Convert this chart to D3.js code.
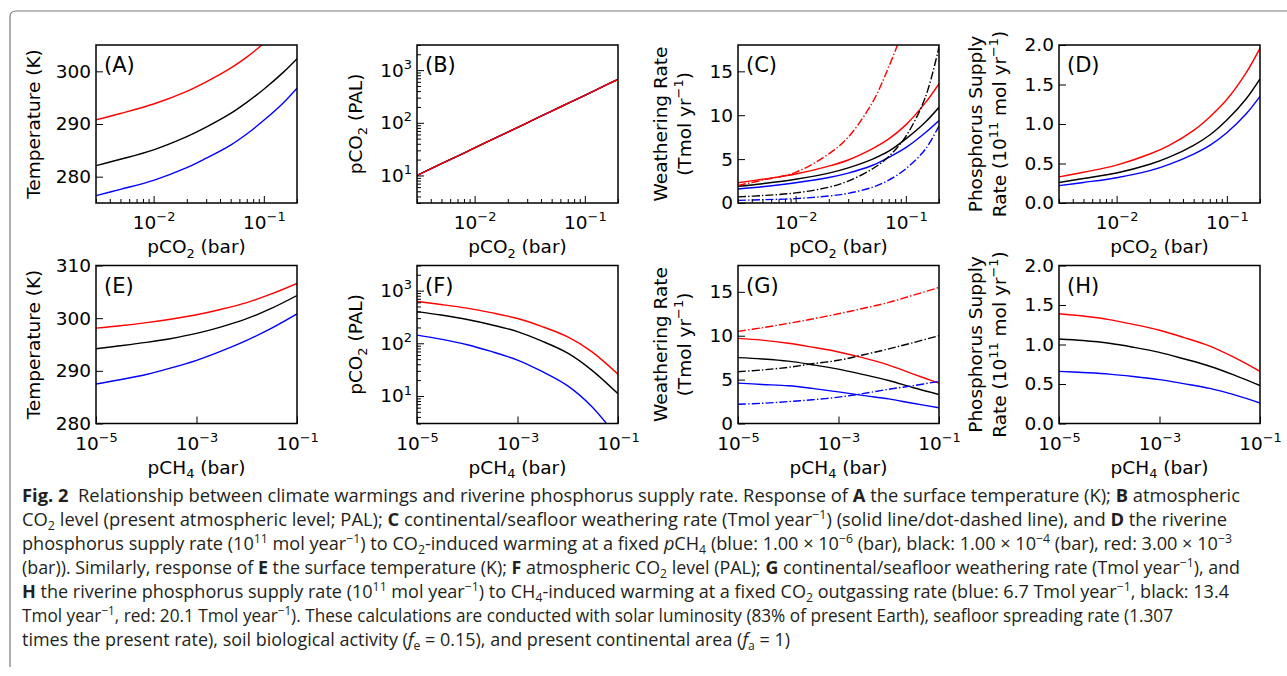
<!DOCTYPE html>
<html>
<head>
<meta charset="utf-8">
<script src="https://cdn.jsdelivr.net/npm/d3@7"></script>
<style>
body { margin: 0; background: #fff; }
svg text { font-family: "DejaVu Sans", sans-serif; fill: #000; }
.cap text { font-family: "Liberation Sans Narrow", "Open Sans", sans-serif; fill: #231f20; white-space: pre; }
</style>
</head>
<body>
<svg id="fig" width="1287" height="676"></svg>
<script>
// x grids (bar)
var pco2 = [0.003, 0.005, 0.01, 0.02, 0.03, 0.05, 0.07, 0.1, 0.15, 0.2];
var pch4 = [1e-5, 3e-5, 1e-4, 3e-4, 1e-3, 3e-3, 1e-2, 3e-2, 1e-1];

// (A) temperature vs pCO2
var tA_blue  = [276.4, 277.6, 279.3, 281.7, 283.5, 286.0, 288.1, 290.7, 294.0, 296.8];
var tA_black = [282.1, 283.3, 285.1, 287.6, 289.4, 292.0, 294.1, 296.6, 299.8, 302.4];
var tA_red   = [290.8, 292.0, 293.8, 296.2, 298.0, 300.6, 302.7, 305.3];
// (B) pCO2 in PAL (same for all three)
var palB = [10, 16.7, 33.3, 66.7, 100, 167, 233, 333, 500, 667];
// (C) continental (solid) / seafloor (dash-dot) weathering
var wC_blue  = [1.6, 1.85, 2.3, 2.9, 3.4, 4.3, 5.2, 6.3, 8.0, 9.4];
var wC_black = [1.9, 2.2, 2.7, 3.4, 4.0, 5.0, 5.9, 7.3, 9.2, 10.9];
var wC_red   = [2.3, 2.7, 3.3, 4.2, 4.9, 6.2, 7.3, 8.9, 11.4, 13.6];
var sC_blue  = [0.3, 0.38, 0.5, 0.8, 1.1, 1.8, 2.6, 3.9, 6.1, 8.8];
var sC_black = [0.7, 0.85, 1.15, 1.8, 2.5, 3.9, 5.3, 7.6, 12.0, 17.8];
var sC_red   = [2.0, 2.6, 3.5, 5.6, 7.5, 11.5, 15.5, 20.5];
// (D) phosphorus supply vs pCO2
var pD_blue  = [0.22, 0.26, 0.32, 0.41, 0.49, 0.62, 0.73, 0.89, 1.13, 1.35];
var pD_black = [0.26, 0.31, 0.38, 0.49, 0.58, 0.73, 0.86, 1.05, 1.32, 1.57];
var pD_red   = [0.33, 0.39, 0.48, 0.62, 0.73, 0.92, 1.09, 1.31, 1.65, 1.96];
// (E) temperature vs pCH4
var tE_blue  = [287.5, 288.3, 289.3, 290.5, 292.0, 293.7, 295.8, 298.0, 300.8];
var tE_black = [294.2, 294.75, 295.4, 296.1, 297.1, 298.3, 299.9, 301.8, 304.3];
var tE_red   = [298.1, 298.55, 299.15, 299.8, 300.65, 301.65, 302.95, 304.55, 306.6];
// (F) pCO2 (PAL) vs pCH4
var palF_blue  = [143, 120, 94, 70, 48, 29.5, 15.5, 6.3, 1.6];
var palF_black = [400, 344, 283, 225, 167, 111, 65, 31, 11];
var palF_red   = [620, 546, 465, 382, 296, 210, 132, 69.5, 25.8];
// (G) weathering vs pCH4
var wG_blue  = [4.6, 4.45, 4.3, 4.0, 3.6, 3.2, 2.8, 2.3, 1.8];
var wG_black = [7.5, 7.35, 7.1, 6.7, 6.2, 5.6, 4.9, 4.1, 3.3];
var wG_red   = [9.7, 9.5, 9.15, 8.7, 8.15, 7.5, 6.65, 5.65, 4.6];
var sG_blue  = [2.2, 2.3, 2.5, 2.7, 3.0, 3.4, 3.9, 4.3, 4.8];
var sG_black = [5.9, 6.1, 6.4, 6.8, 7.2, 7.8, 8.5, 9.2, 10.0];
var sG_red   = [10.5, 10.9, 11.4, 11.9, 12.5, 13.1, 13.8, 14.6, 15.5];
// (H) phosphorus supply vs pCH4
var pH_blue  = [0.66, 0.645, 0.625, 0.595, 0.555, 0.505, 0.445, 0.365, 0.26];
var pH_black = [1.07, 1.05, 1.015, 0.965, 0.90, 0.82, 0.725, 0.615, 0.48];
var pH_red   = [1.39, 1.36, 1.315, 1.255, 1.18, 1.09, 0.98, 0.84, 0.66];

// ticks
var co2Major = [0.01, 0.1];
var co2Minor = [0.003, 0.004, 0.005, 0.006, 0.007, 0.008, 0.009,
                0.02, 0.03, 0.04, 0.05, 0.06, 0.07, 0.08, 0.09, 0.2];
var ch4Major = [1e-5, 1e-3, 1e-1];
var palMajor = [10, 100, 1000];
var palMinor = [3, 4, 5, 6, 7, 8, 9, 20, 30, 40, 50, 60, 70, 80, 90,
                200, 300, 400, 500, 600, 700, 800, 900, 2000, 3000];
var tempTicksA = [280, 290, 300];
var tempTicksE = [280, 290, 300, 310];
var wTicks = [0, 5, 10, 15];
var pTicks = [0.0, 0.5, 1.0, 1.5, 2.0];

var svg = d3.select("#fig");
var W = 201, H = 158;
var cols = [96, 417, 738, 1059];
var rows = [45, 265.5];
var FS = 18.5;

// frame of the figure box
svg.append("path")
    .attr("d", "M10,667 L10,17 Q10,11 16,11 L1287,11")
    .attr("fill", "none").attr("stroke", "#777").attr("stroke-width", 1.2);

// text with sub/superscripts: parts = [[string, "sup"|"sub"|undefined], ...]
function rich(t, parts, fs) {
    var shift = 0;
    parts.forEach(function(p) {
        var ts = t.append("tspan").text(p[0]);
        var target = p[1] === "sup" ? -0.42 * fs : (p[1] === "sub" ? 0.25 * fs : 0);
        if (target !== shift) { ts.attr("dy", target - shift); shift = target; }
        if (p[1]) ts.attr("font-size", fs * 0.7);
    });
}

function expLabel(d) {
    var e = Math.round(Math.log10(d));
    return [["10"], [(e < 0 ? "\u2212" : "") + Math.abs(e), "sup"]];
}

function panel(p) {
    var g = svg.append("g").attr("transform", "translate(" + p.left + "," + p.top + ")");
    var x = d3.scaleLog().domain(p.xdom).range([0, W]);
    var y = (p.ylog ? d3.scaleLog() : d3.scaleLinear()).domain(p.ydom).range([H, 0]);

    var cid = "clip" + p.name;
    g.append("clipPath").attr("id", cid).append("rect").attr("width", W).attr("height", H);

    var plot = g.append("g").attr("clip-path", "url(#" + cid + ")");
    p.series.forEach(function(s) {
        var pts = s.v.map(function(v, i) { return [p.xs[i], v]; });
        var line = d3.line()
            .x(function(d) { return x(d[0]); })
            .y(function(d) { return y(d[1]); })
            .curve(d3.curveCatmullRom.alpha(0.5));
        plot.append("path")
            .attr("d", line(pts))
            .attr("fill", "none")
            .attr("stroke", s.c)
            .attr("stroke-width", 1.4)
            .attr("stroke-dasharray", s.dash ? "8,2.2,1.4,2.2" : null);
    });

    // x axis
    if (p.xminor) {
        g.append("g").attr("transform", "translate(0," + H + ")")
            .call(d3.axisBottom(x).tickValues(p.xminor).tickSizeInner(-4).tickSizeOuter(0).tickFormat(""))
            .call(function(a) { a.select(".domain").remove(); });
    }
    var xa = g.append("g").attr("transform", "translate(0," + H + ")")
        .call(d3.axisBottom(x).tickValues(p.xmajor).tickSizeInner(-7).tickSizeOuter(0).tickPadding(13).tickFormat(""));
    xa.select(".domain").remove();
    xa.selectAll(".tick text").each(function(d) {
        var t = d3.select(this).attr("font-size", FS).attr("fill", "#000");
        rich(t, expLabel(d), FS);
    });

    // y axis
    if (p.yminor) {
        g.append("g")
            .call(d3.axisLeft(y).tickValues(p.yminor).tickSizeInner(-4).tickSizeOuter(0).tickFormat(""))
            .call(function(a) { a.select(".domain").remove(); });
    }
    var ya = g.append("g")
        .call(d3.axisLeft(y).tickValues(p.ymajor).tickSizeInner(-7).tickSizeOuter(0).tickPadding(5)
            .tickFormat(p.ylog ? "" : p.yfmt));
    ya.select(".domain").remove();
    ya.selectAll(".tick text").attr("font-size", FS).attr("fill", "#000").each(function(d) {
        if (p.ylog) rich(d3.select(this), expLabel(d), FS);
    });
    g.selectAll(".tick line").attr("stroke", "#000").attr("stroke-width", 1);
    g.selectAll(".tick").attr("font-family", null);

    // frame
    g.append("rect").attr("width", W).attr("height", H)
        .attr("fill", "none").attr("stroke", "#000").attr("stroke-width", 1.5);

    // panel letter
    g.append("text").attr("x", 8).attr("y", 27).attr("font-size", 21).text("(" + p.name + ")");

    // x label
    var xl = g.append("text").attr("x", W / 2).attr("y", H + 50)
        .attr("text-anchor", "middle").attr("font-size", FS);
    rich(xl, p.xlabel, FS);

    // y label lines
    p.ylabel.forEach(function(lab) {
        var yl = g.append("text")
            .attr("transform", "translate(" + lab.dx + "," + (H / 2) + ") rotate(-90)")
            .attr("text-anchor", "middle").attr("font-size", FS);
        rich(yl, lab.parts, FS);
    });
}

var labCO2 = [["pCO"], ["2", "sub"], [" (bar)"]];
var labCH4 = [["pCH"], ["4", "sub"], [" (bar)"]];
var labT = [{dx: -56, parts: [["Temperature (K)"]]}];
var labPAL = [{dx: -55, parts: [["pCO"], ["2", "sub"], [" (PAL)"]]}];
var labW = [{dx: -71, parts: [["Weathering Rate"]]},
            {dx: -47, parts: [["(Tmol yr"], ["\u22121", "sup"], [")"]]}];
var labP = [{dx: -77, parts: [["Phosphorus Supply"]]},
            {dx: -53, parts: [["Rate (10"], ["11", "sup"], [" mol yr"], ["\u22121", "sup"], [")"]]}];
var fmt1 = d3.format(".1f");
var fmt0 = d3.format("d");

function trio(b, k, r, dash) {
    return [{v: b, c: "#0000ff", dash: dash}, {v: k, c: "#000", dash: dash}, {v: r, c: "#ff0000", dash: dash}];
}

var top1 = {xs: pco2, xdom: [0.003, 0.2], xmajor: co2Major, xminor: co2Minor, xlabel: labCO2, top: rows[0]};
var top2 = {xs: pch4, xdom: [1e-5, 1e-1], xmajor: ch4Major, xminor: null, xlabel: labCH4, top: rows[1]};

var panels = [
    Object.assign({}, top1, {name: "A", left: cols[0], ydom: [275, 305], ymajor: tempTicksA, yfmt: fmt0, ylabel: labT,
        series: trio(tA_blue, tA_black, tA_red)}),
    Object.assign({}, top1, {name: "B", left: cols[1], ylog: true, ydom: [3, 3000], ymajor: palMajor, yminor: palMinor, ylabel: labPAL,
        series: trio(palB, palB, palB)}),
    Object.assign({}, top1, {name: "C", left: cols[2], ydom: [0, 18], ymajor: wTicks, yfmt: fmt0, ylabel: labW,
        series: trio(wC_blue, wC_black, wC_red).concat(trio(sC_blue, sC_black, sC_red, true))}),
    Object.assign({}, top1, {name: "D", left: cols[3], ydom: [0, 2], ymajor: pTicks, yfmt: fmt1, ylabel: labP,
        series: trio(pD_blue, pD_black, pD_red)}),
    Object.assign({}, top2, {name: "E", left: cols[0], ydom: [280, 310], ymajor: tempTicksE, yfmt: fmt0, ylabel: labT,
        series: trio(tE_blue, tE_black, tE_red)}),
    Object.assign({}, top2, {name: "F", left: cols[1], ylog: true, ydom: [3, 3000], ymajor: palMajor, yminor: palMinor, ylabel: labPAL,
        series: trio(palF_blue, palF_black, palF_red)}),
    Object.assign({}, top2, {name: "G", left: cols[2], ydom: [0, 18], ymajor: wTicks, yfmt: fmt0, ylabel: labW,
        series: trio(wG_blue, wG_black, wG_red).concat(trio(sG_blue, sG_black, sG_red, true))}),
    Object.assign({}, top2, {name: "H", left: cols[3], ydom: [0, 2], ymajor: pTicks, yfmt: fmt1, ylabel: labP,
        series: trio(pH_blue, pH_black, pH_red)})
];
panels.forEach(panel);

// caption
var capLines = [
    {end: 1240, parts: [["Fig. 2", "b"], ["  Relationship between climate warmings and riverine phosphorus supply rate. Response of "], ["A", "b"], [" the surface temperature (K); "], ["B", "b"], [" atmospheric"]]},
    {end: 1227, parts: [["CO"], ["2", "sub"], [" level (present atmospheric level; PAL); "], ["C", "b"], [" continental/seafloor weathering rate (Tmol year"], ["\u22121", "sup"], [") (solid line/dot-dashed line), and "], ["D", "b"], [" the riverine"]]},
    {end: 1232, parts: [["phosphorus supply rate (10"], ["11", "sup"], [" mol year"], ["\u22121", "sup"], [") to CO"], ["2", "sub"], ["-induced warming at a fixed "], ["p", "i"], ["CH"], ["4", "sub"], [" (blue: 1.00 \u00d7 10"], ["\u22126", "sup"], [" (bar), black: 1.00 \u00d7 10"], ["\u22124", "sup"], [" (bar), red: 3.00 \u00d7 10"], ["\u22123", "sup"]]},
    {end: 1240, parts: [["(bar)). Similarly, response of "], ["E", "b"], [" the surface temperature (K); "], ["F", "b"], [" atmospheric CO"], ["2", "sub"], [" level (PAL); "], ["G", "b"], [" continental/seafloor weathering rate (Tmol year"], ["\u22121", "sup"], ["), and"]]},
    {end: 1229, parts: [["H", "b"], [" the riverine phosphorus supply rate (10"], ["11", "sup"], [" mol year"], ["\u22121", "sup"], [") to CH"], ["4", "sub"], ["-induced warming at a fixed CO"], ["2", "sub"], [" outgassing rate (blue: 6.7 Tmol year"], ["\u22121", "sup"], [", black: 13.4"]]},
    {end: 1173, parts: [["Tmol year"], ["\u22121", "sup"], [", red: 20.1 Tmol year"], ["\u22121", "sup"], ["). These calculations are conducted with solar luminosity (83% of present Earth), seafloor spreading rate (1.307"]]},
    {end: 790, parts: [["times the present rate), soil biological activity ("], ["f", "i"], ["e", "sub"], [" = 0.15), and present continental area ("], ["f", "i"], ["a", "sub"], [" = 1)"]]}
];

var cap = svg.append("g").attr("class", "cap");
var CFS = 17.5;
capLines.forEach(function(l, i) {
    var t = cap.append("text").attr("x", 22).attr("y", 502 + i * 24).attr("font-size", CFS)
        .attr("textLength", l.end - 22).attr("lengthAdjust", "spacingAndGlyphs");
    var shift = 0;
    l.parts.forEach(function(p) {
        var ts = t.append("tspan").text(p[0]);
        var target = p[1] === "sup" ? -0.4 * CFS : (p[1] === "sub" ? 0.22 * CFS : 0);
        if (target !== shift) { ts.attr("dy", target - shift); shift = target; }
        if (p[1] === "sup" || p[1] === "sub") ts.attr("font-size", CFS * 0.68);
        if (p[1] === "b") ts.attr("font-weight", "bold");
        if (p[1] === "i") ts.attr("font-style", "italic");
    });
});
</script>
</body>
</html>
